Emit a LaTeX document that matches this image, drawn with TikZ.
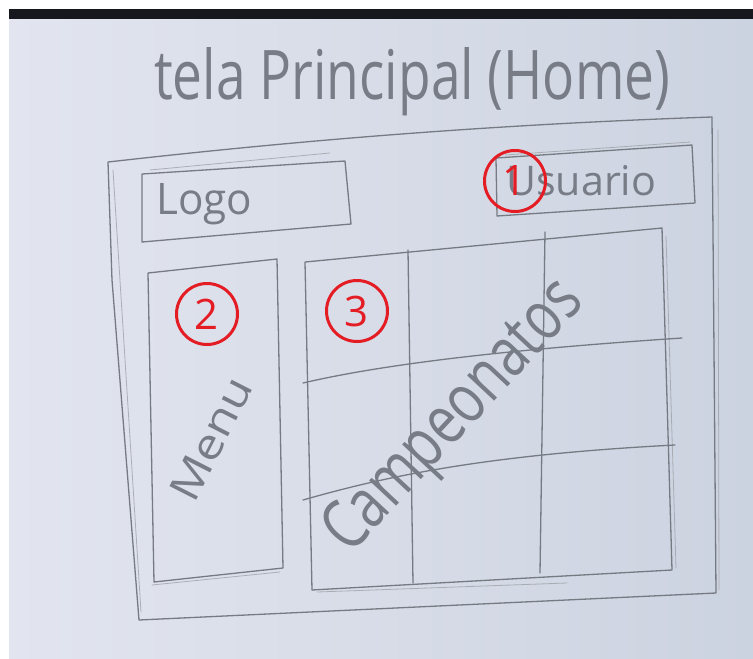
\documentclass[tikz,border=0pt]{standalone}
\usepackage{fontspec}
\usepackage{graphicx}
\setmainfont{Open Sans}
\usetikzlibrary{positioning}
\definecolor{paperleft}{RGB}{226,229,239}
\definecolor{paperright}{RGB}{204,211,224}
\definecolor{pencil}{RGB}{118,122,130}
\definecolor{pencildark}{RGB}{120,124,134}
\definecolor{markred}{RGB}{228,28,36}
\definecolor{topbar}{RGB}{22,24,30}

\begin{document}
\begin{tikzpicture}[x=1pt, y=-1pt,
  pencilline/.style={draw=pencil, line width=1.3pt, line cap=round, line join=round},
  pencilfaint/.style={draw=pencil!70, line width=0.8pt, line cap=round, opacity=0.8},
  handtext/.style={inner sep=0pt, text=pencildark},
  marker/.style={circle, draw=markred, line width=3pt, minimum size=61pt, inner sep=0pt,
    text=markred, font=\fontsize{42}{42}\selectfont}
]
\useasboundingbox (0,0) rectangle (753,659);
\fill[white] (0,0) rectangle (753,659);
\shade[left color=paperleft, right color=paperright] (9,19) rectangle (753,659);
\fill[topbar] (9,9) rectangle (753,19);

\node[handtext, anchor=base west] (title) at (154,99)
  {\resizebox{516pt}{52pt}{tela Principal (Home)}};

\draw[pencilline] (108,162) .. controls (250,146) and (450,126) .. (712,117)
  -- (714,350) -- (716,593) -- (139,620) -- (112,280) -- cycle;
\draw[pencilfaint] (718,130) -- (719,590);
\draw[pencilfaint] (317,592) -- (567,583);
\draw[pencilfaint] (113,170) -- (141,612);

\draw[pencilline] (142,174) -- (345,161) -- (351,224) -- (142,242) -- cycle;
\draw[pencilfaint] (150,170) -- (330,153);
\node[handtext, anchor=base west] (logo) at (156,214) {\resizebox{96pt}{31pt}{Logo}};

\draw[pencilline] (496,158) -- (692,145) -- (695,203) -- (497,216) -- cycle;
\draw[pencilfaint] (505,155) -- (690,142);
\node[handtext, anchor=base west] (usuario) at (506,195) {\resizebox{150pt}{30pt}{Usuario}};

\draw[pencilline] (148,273) -- (277,259) -- (283,568) -- (154,582) -- cycle;
\draw[pencilfaint] (152,585) -- (280,572);
\node[handtext, anchor=base west, rotate=63] (menu) at (194,505) {\resizebox{132pt}{30pt}{Menu}};

\draw[pencilline] (305,262) -- (662,228) -- (672,570) -- (312,590) -- cycle;
\draw[pencilfaint] (666,236) -- (676,568);
\draw[pencilline] (408,250) -- (413,583);
\draw[pencilline] (545,232) -- (540,573);
\draw[pencilline] (303,383) .. controls (380,365) and (500,350) .. (682,338);
\draw[pencilline] (303,500) .. controls (380,478) and (480,455) .. (675,445);
\node[handtext, anchor=base west, rotate=47] (campeonatos) at (350,556)
  {\resizebox{345pt}{50pt}{Campeonatos}};

\node[marker] (m1) at (515,181) {1};
\node[marker] (m2) at (207,314) {2};
\node[marker] (m3) at (357,311) {3};
\end{tikzpicture}
\end{document}
